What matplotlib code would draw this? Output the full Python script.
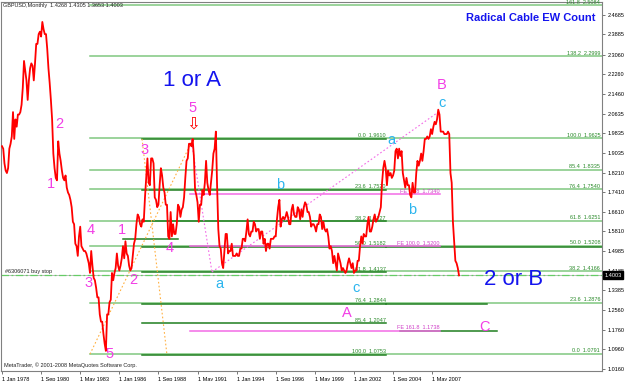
import numpy as np
import matplotlib.pyplot as plt
from matplotlib.transforms import blended_transform_factory

plt.rcParams['font.family'] = ['Liberation Sans', 'DejaVu Sans']

# GBPUSD monthly closes, Jan 1978 .. Mar 2009
closes = [
    1.93, 1.92, 1.86, 1.83, 1.82, 1.84, 1.92, 1.94, 1.97, 2.07, 1.96, 2.04,  # 1978
    2.01, 2.06, 2.06, 2.07, 2.10, 2.17, 2.28, 2.24, 2.20, 2.12, 2.20, 2.25,  # 1979
    2.27, 2.26, 2.20, 2.27, 2.35, 2.35, 2.39, 2.40, 2.38, 2.44, 2.41, 2.39,  # 1980
    2.39, 2.33, 2.25, 2.19, 2.12, 2.04, 1.90, 1.84, 1.80, 1.79, 1.95, 1.90,  # 1981
    1.87, 1.83, 1.80, 1.79, 1.81, 1.76, 1.74, 1.73, 1.71, 1.68, 1.62, 1.61,  # 1982
    1.53, 1.52, 1.48, 1.56, 1.60, 1.52, 1.51, 1.50, 1.50, 1.49, 1.47, 1.45,  # 1983
    1.41, 1.50, 1.44, 1.39, 1.38, 1.35, 1.31, 1.31, 1.24, 1.21, 1.21, 1.16,  # 1984
    1.12, 1.09, 1.24, 1.24, 1.29, 1.30, 1.41, 1.38, 1.41, 1.43, 1.49, 1.44,  # 1985
    1.42, 1.44, 1.47, 1.52, 1.47, 1.54, 1.49, 1.48, 1.44, 1.42, 1.43, 1.48,  # 1986
    1.53, 1.55, 1.61, 1.65, 1.64, 1.61, 1.60, 1.63, 1.62, 1.72, 1.80, 1.88,  # 1987
    1.78, 1.77, 1.88, 1.88, 1.86, 1.72, 1.71, 1.68, 1.69, 1.77, 1.84, 1.81,  # 1988
    1.76, 1.74, 1.69, 1.69, 1.56, 1.55, 1.66, 1.56, 1.61, 1.57, 1.57, 1.61,  # 1989
    1.69, 1.68, 1.64, 1.67, 1.68, 1.72, 1.80, 1.87, 1.88, 1.94, 1.94, 1.93,  # 1990
    1.96, 1.89, 1.75, 1.73, 1.70, 1.62, 1.69, 1.69, 1.75, 1.73, 1.78, 1.87,  # 1991
    1.78, 1.75, 1.73, 1.78, 1.83, 1.90, 1.92, 1.99, 1.77, 1.59, 1.52, 1.51,  # 1992
    1.45, 1.43, 1.50, 1.57, 1.57, 1.49, 1.50, 1.50, 1.53, 1.48, 1.48, 1.48,  # 1993
    1.49, 1.48, 1.48, 1.51, 1.51, 1.55, 1.55, 1.54, 1.58, 1.63, 1.57, 1.56,  # 1994
    1.58, 1.58, 1.62, 1.61, 1.58, 1.59, 1.59, 1.55, 1.58, 1.58, 1.53, 1.55,  # 1995
    1.50, 1.53, 1.53, 1.51, 1.55, 1.55, 1.55, 1.56, 1.56, 1.63, 1.68, 1.71,  # 1996
    1.60, 1.63, 1.64, 1.63, 1.64, 1.66, 1.64, 1.61, 1.61, 1.67, 1.69, 1.65,  # 1997
    1.64, 1.64, 1.68, 1.67, 1.63, 1.67, 1.64, 1.68, 1.70, 1.69, 1.66, 1.66,  # 1998
    1.64, 1.60, 1.61, 1.61, 1.60, 1.58, 1.61, 1.61, 1.65, 1.64, 1.59, 1.62,  # 1999
    1.59, 1.58, 1.59, 1.56, 1.51, 1.52, 1.50, 1.45, 1.48, 1.45, 1.42, 1.49,  # 2000
    1.47, 1.45, 1.42, 1.43, 1.42, 1.41, 1.42, 1.45, 1.47, 1.45, 1.43, 1.45,  # 2001
    1.41, 1.42, 1.42, 1.46, 1.46, 1.52, 1.56, 1.53, 1.57, 1.56, 1.56, 1.61,  # 2002
    1.64, 1.58, 1.58, 1.60, 1.63, 1.65, 1.62, 1.63, 1.64, 1.66, 1.68, 1.78,  # 2003
    1.84, 1.87, 1.84, 1.77, 1.83, 1.81, 1.82, 1.80, 1.81, 1.83, 1.91, 1.92,  # 2004
    1.88, 1.92, 1.89, 1.91, 1.82, 1.79, 1.76, 1.80, 1.77, 1.77, 1.73, 1.72,  # 2005
    1.78, 1.74, 1.74, 1.82, 1.87, 1.85, 1.87, 1.90, 1.87, 1.91, 1.96, 1.96,  # 2006
    1.97, 1.96, 1.97, 2.00, 1.98, 2.01, 2.03, 2.02, 2.04, 2.08, 2.06, 1.99,  # 2007
    1.99, 1.99, 1.98, 1.98, 1.98, 1.99, 1.98, 1.82, 1.78, 1.62, 1.54, 1.46,  # 2008
    1.45, 1.43, 1.40,                                                        # 2009
]
last_price = 1.4003
buy_stop = 1.4025

# x axis: month index since Jan 1978
tick_months = [0, 32, 64, 96, 128, 160, 192, 224, 256, 288, 320, 352]
tick_labels = ["1 Jan 1978", "1 Sep 1980", "1 May 1983", "1 Jan 1986", "1 Sep 1988",
               "1 May 1991", "1 Jan 1994", "1 Sep 1996", "1 May 1999", "1 Jan 2002",
               "1 Sep 2004", "1 May 2007"]
price_ticks = [2.4685, 2.3885, 2.3060, 2.2260, 2.1460, 2.0635, 1.9835, 1.9035, 1.8210,
               1.7410, 1.6610, 1.5810, 1.4985, 1.4185, 1.3385, 1.2560, 1.1760, 1.0960,
               1.0160]

# fibo retracement drawn from the 1985 low (light, ray to the right)
fibo_b_levels = [0.0, 23.6, 38.2, 50.0, 61.8, 76.4, 85.4, 100.0, 138.2, 161.8]
fibo_b_prices = [1.0791, 1.2876, 1.4166, 1.5208, 1.6251, 1.7540, 1.8335, 1.9625, 2.2999, 2.5084]
# fibo retracement of the 1991 top (dark)
fibo_a_levels = [0.0, 23.6, 38.2, 50.0, 61.8, 76.4, 85.4, 100.0]
fibo_a_prices = [1.9610, 1.7520, 1.6227, 1.5182, 1.4137, 1.2844, 1.2047, 1.0753]
# fibo expansion levels (pink)
fe_levels = [61.8, 100.0, 161.8]
fe_prices = [1.7340, 1.5200, 1.1738]

# wave labels: (text, month, price)
pink_waves = [("2", 46.6, 2.021), ("1", 40.1, 1.775), ("4", 72.8, 1.586), ("3", 70.4, 1.369),
              ("5", 87.6, 1.077), ("1", 98.2, 1.586), ("2", 107.2, 1.381), ("3", 117.0, 1.915),
              ("4", 137.5, 1.512), ("5", 155.5, 2.087), ("B", 360.0, 2.181),
              ("A", 282.3, 1.246), ("C", 395.0, 1.188)]
cyan_waves = [("c", 360.0, 2.107), ("a", 319.0, 1.956), ("b", 227.5, 1.771),
              ("b", 335.5, 1.668), ("a", 177.6, 1.365), ("c", 289.7, 1.348)]

red = "#ff0000"
light_green = "#80c880"
dark_green = "#1f7f1f"
label_green = "#2a8a2a"
pink = "#f36be6"
wave_pink = "#f23ee6"
wave_cyan = "#2cb5ee"
blue = "#1414ee"
small = 4.0

fig = plt.figure(figsize=(6.25, 3.81), dpi=100, facecolor="white")
ax = fig.add_axes([1.4 / 625, 10 / 381, 600.6 / 625, 369 / 381])
ax.set_xlim(-0.5, 491)
ax.set_ylim(1.0077, 2.5218)

# fibo B (light, ray from x of the 1983 low)
for lvl, p in zip(fibo_b_levels, fibo_b_prices):
    ax.plot([72, 491], [p, p], color=light_green, lw=1.1, zorder=1)
    ax.text(489.5, p + 0.002, f"{lvl:.1f}  {p:.4f}", color=label_green, fontsize=small,
            ha="right", va="bottom", zorder=3)

# fibo A (dark)
for lvl, p in zip(fibo_a_levels, fibo_a_prices):
    ax.plot([114.6, 314.2], [p, p], color=dark_green, lw=1.1, zorder=1)
    ax.text(314.2, p + 0.002, f"{lvl:.1f}  {p:.4f}", color=label_green, fontsize=small,
            ha="right", va="bottom", zorder=3)

# extra dark segments
for p, m0, m1 in [(1.2844, 314.2, 397.0), (1.1738, 325.7, 405.0), (1.5500, 99.0, 144.0),
                  (1.5182, 314.2, 491.0)]:
    ax.plot([m0, m1], [p, p], color=dark_green, lw=1.1, zorder=1)

# fibo expansion (pink)
for lvl, p in zip(fe_levels, fe_prices):
    ax.plot([153.8, 358.4], [p, p], color=pink, lw=1.1, zorder=1.5)
    ax.text(358.4, p + 0.002, f"FE {lvl:.1f}  {p:.4f}", color="#d040c8", fontsize=small,
            ha="right", va="bottom", zorder=3)

# dotted construction lines
ax.plot([72, 156.3], [1.077, 1.960], color="#ffb040", lw=0.8, ls=(0, (1.5, 2)), zorder=1.2)
ax.plot([114.6, 135.0], [1.960, 1.073], color="#ffb040", lw=0.8, ls=(0, (1.5, 2)), zorder=1.2)
ax.plot([154.7, 171.8], [1.960, 1.414], color=pink, lw=0.8, ls=(0, (1.5, 2)), zorder=1.2)
ax.plot([171.8, 358.4], [1.414, 2.075], color=pink, lw=0.8, ls=(0, (1.5, 2)), zorder=1.2)

# pending order and bid line
ax.axhline(buy_stop, color="#66cc66", lw=0.9, ls=(0, (6, 2, 1.5, 2)), zorder=1.3)
ax.axhline(last_price, color="#b0b0b0", lw=0.6, zorder=1.1)
ax.text(2.5, buy_stop + 0.004, "#6306071 buy stop", fontsize=small, color="#222222",
        ha="left", va="bottom")

# price line
months = np.arange(len(closes))
ax.plot(months, closes, color=red, lw=1.3, zorder=4)

# wave labels
for t, m, p in pink_waves:
    ax.text(m, p, t, color=wave_pink, fontsize=10.5, ha="center", va="center", zorder=5)
for t, m, p in cyan_waves:
    ax.text(m, p, t, color=wave_cyan, fontsize=10.5, ha="center", va="center", zorder=5)
ax.text(156.3, 2.024, "\u21e9", color=red, fontsize=12, ha="center", va="center",
        family="DejaVu Sans", zorder=5)
ax.text(155.5, 2.200, "1 or A", color=blue, fontsize=16, ha="center", va="center", zorder=5)
ax.text(419.0, 1.384, "2 or B", color=blue, fontsize=16, ha="center", va="center", zorder=5)

# axes styling
for s in ax.spines.values():
    s.set_color("#808080")
    s.set_linewidth(0.8)
ax.set_xticks(tick_months)
ax.set_xticklabels(tick_labels, fontsize=small, ha="left")
ax.tick_params(axis="x", length=2.5, width=0.6, color="#606060", pad=1.5)
ax.yaxis.tick_right()
ax.set_yticks(price_ticks)
ax.set_yticklabels([f"{p:.4f}" for p in price_ticks], fontsize=small)
ax.tick_params(axis="y", length=2.5, width=0.6, color="#606060", pad=1.5)

trans = blended_transform_factory(ax.transAxes, ax.transData)
ax.text(1.004, last_price, "1.4003", transform=trans, fontsize=small, color="white",
        ha="left", va="center", zorder=6,
        bbox=dict(boxstyle="square,pad=0.25", fc="black", ec="black"))

fig.text(3 / 625, 1 - 6 / 381, "GBPUSD,Monthly  1.4268 1.4305 1.3653 1.4003",
         fontsize=small, color="#222222", ha="left", va="center")
fig.text(531 / 625, 1 - 18 / 381, "Radical Cable EW Count", fontsize=8, color=blue,
         fontweight="bold", ha="center", va="center")
fig.text(4 / 625, 1 - 365 / 381, "MetaTrader, \u00a9 2001-2008 MetaQuotes Software Corp.",
         fontsize=small, color="#222222", ha="left", va="center")

fig.savefig("out.png", dpi=100, facecolor="white")
